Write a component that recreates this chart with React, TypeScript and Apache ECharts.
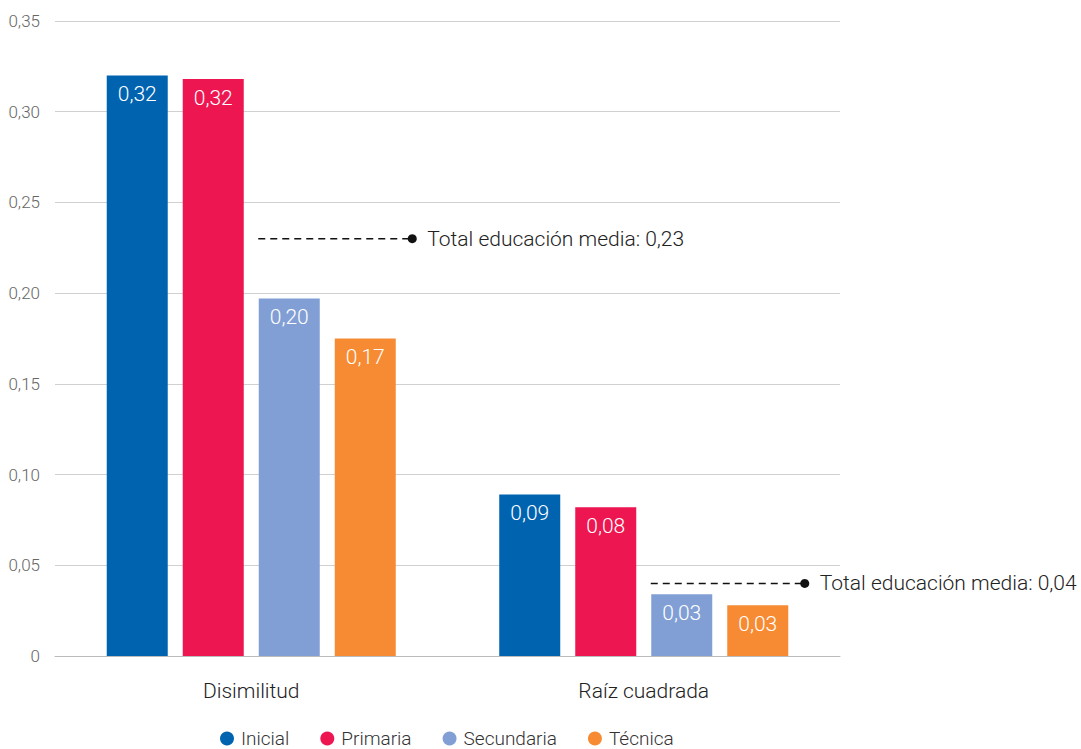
import React, { useEffect, useRef } from "react";
import * as echarts from "echarts";

const categories = ["Disimilitud", "Raíz cuadrada"];
const seriesNames = ["Inicial", "Primaria", "Secundaria", "Técnica"];
const inicial = [0.32, 0.089];
const primaria = [0.318, 0.082];
const secundaria = [0.197, 0.034];
const tecnica = [0.175, 0.028];
const totalMedia = [0.23, 0.04];
const colors = ["#0063B0", "#EE1651", "#819FD4", "#F68B33"];

const fmt = (v: number) => (v === 0 ? "0" : v.toFixed(2).replace(".", ","));
const FONT = "Roboto";

export default function App() {
  const ref = useRef<HTMLDivElement>(null);
  useEffect(() => {
    if (!ref.current) return;
    const chart = echarts.init(ref.current, null, { renderer: "svg" });
    const values = [inicial, primaria, secundaria, tecnica];
    const barSeries = seriesNames.map((name, i) => ({
      name,
      type: "bar",
      data: values[i],
      barWidth: 61,
      barGap: "24.6%",
      itemStyle: { color: colors[i] },
      label: {
        show: true,
        position: "insideTop",
        distance: 8,
        color: "#fff",
        fontFamily: FONT,
        fontWeight: 300,
        fontSize: 21,
        formatter: (p: any) => fmt(p.value),
      },
    }));
    chart.setOption({
      animation: false,
      textStyle: { fontFamily: FONT },
      grid: { left: 55, right: 241, top: 21, bottom: 93, containLabel: false },
      legend: {
        data: seriesNames,
        left: 220,
        top: 729,
        padding: 0,
        icon: "circle",
        itemWidth: 14,
        itemHeight: 14,
        itemGap: 31,
        textStyle: { fontFamily: FONT, fontWeight: 300, fontSize: 19, color: "#333", padding: [0, 0, 0, 2] },
      },
      xAxis: {
        type: "category",
        data: categories,
        axisTick: { show: false },
        axisLine: { lineStyle: { color: "#bbb" } },
        axisLabel: { color: "#222", fontFamily: FONT, fontWeight: 300, fontSize: 21, margin: 24 },
      },
      yAxis: {
        type: "value",
        min: 0,
        max: 0.35,
        interval: 0.05,
        axisLine: { show: false },
        axisTick: { show: false },
        splitLine: { lineStyle: { color: "#d0d0d0" } },
        axisLabel: {
          color: "#666",
          fontFamily: FONT,
          fontWeight: 300,
          fontSize: 17,
          margin: 15,
          formatter: (v: number) => fmt(v),
        },
      },
      series: [
        ...barSeries,
        {
          name: "total",
          type: "custom",
          coordinateSystem: "cartesian2d",
          encode: { x: 0, y: 1 },
          data: totalMedia.map((v, i) => [i, v]),
          z: 10,
          renderItem: (params: any, api: any) => {
            const pt = api.coord([api.value(0), api.value(1)]);
            const cx = pt[0];
            const cy = pt[1];
            const v = api.value(1);
            return {
              type: "group",
              children: [
                {
                  type: "line",
                  shape: { x1: cx + 7, y1: cy, x2: cx + 161, y2: cy },
                  style: { stroke: "#111", lineWidth: 1.5, lineDash: [7, 5] },
                },
                {
                  type: "circle",
                  shape: { cx: cx + 161, cy, r: 4.5 },
                  style: { fill: "#111" },
                },
                {
                  type: "text",
                  x: cx + 176,
                  y: cy,
                  style: {
                    text: "Total educación media: " + fmt(v),
                    fontFamily: FONT,
                    fontWeight: 300,
                    fontSize: 21,
                    fill: "#222",
                    verticalAlign: "middle",
                    align: "left",
                  },
                },
              ],
            };
          },
        },
      ],
    });
    return () => chart.dispose();
  }, []);
  return <div ref={ref} style={{ width: 1081, height: 749, position: "absolute", left: 0, top: 0 }} />;
}
